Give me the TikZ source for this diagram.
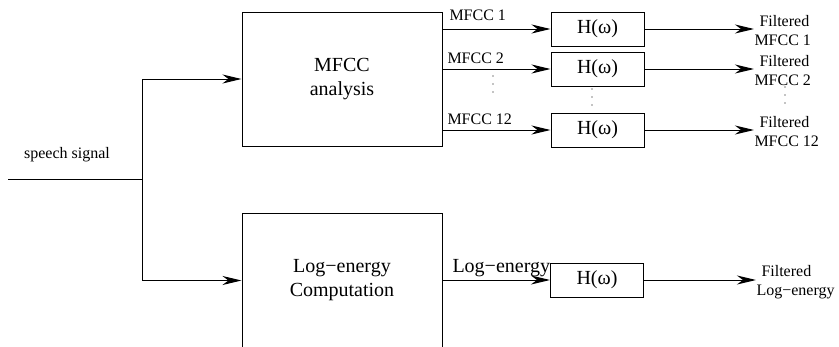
\documentclass[tikz,border=0pt]{standalone}
\usepackage{fontspec}
\setmainfont{Liberation Serif}
\newfontfamily\tms{Liberation Serif}
\usetikzlibrary{arrows.meta}
\begin{document}
\begin{tikzpicture}[x=1pt,y=-1pt,
  line width=1pt,
  bigbox/.style={draw, minimum width=200pt, minimum height=134pt, align=center, font=\tms\fontsize{20}{24}\selectfont, inner sep=0pt},
  hbox/.style={draw, minimum width=93pt, minimum height=34pt, inner sep=0pt, font=\tms\fontsize{20}{24}\selectfont},
  arr/.style={-{Stealth[length=19pt,width=9pt,inset=6pt]}},
  lab/.style={font=\tms\fontsize{16}{18}\selectfont, inner sep=0pt, anchor=base west},
  outl/.style={font=\tms\fontsize{16}{19}\selectfont, align=left, anchor=west, inner sep=0pt},
  loglab/.style={font=\tms\fontsize{20}{24}\selectfont, inner sep=0pt, anchor=base west}
]
\clip (0,0) rectangle (839,346);
% main blocks
\node[bigbox] (mfcc) at (342,79) {MFCC\\analysis};
\node[bigbox] (loge) at (342,280.5) {Log−energy\\Computation};
\node[hbox] (h1) at (597.5,29) {H(ω)};
\node[hbox] (h2) at (597.5,69) {H(ω)};
\node[hbox] (h3) at (597.5,130) {H(ω)};
\node[hbox] (h4) at (597,280) {H(ω)};
% input
\node[font=\tms\fontsize{16}{18}\selectfont, inner sep=0pt] (sp) at (67,155) {speech signal};
\coordinate (in) at (8,179);
\coordinate (split) at (142,179);
\draw (in) -- (split);
\draw[arr] (split) |- (mfcc.west);
\draw[arr] (split) |- (loge.west);
% channel labels
\node[lab] (l1) at (449,20) {MFCC 1};
\node[lab] (l2) at (447,63) {MFCC 2};
\node[lab] (l3) at (447,124) {MFCC 12};
\node[loglab] (l4) at (452,272) {Log−energy};
% arrows into filters
\draw[arr] (mfcc.east |- h1.west) -- (h1.west);
\draw[arr] (mfcc.east |- h2.west) -- (h2.west);
\draw[arr] (mfcc.east |- h3.west) -- (h3.west);
\draw[arr] (loge.east |- h4.west) -- (h4.west);
% outputs
\node[outl] (f1) at (754,31) {\hspace*{5pt}Filtered\\MFCC 1};
\node[outl] (f2) at (754,71) {\hspace*{5pt}Filtered\\MFCC 2};
\node[outl] (f3) at (754,132) {\hspace*{5pt}Filtered\\MFCC 12};
\node[outl] (f4) at (756,282) {\hspace*{5pt}Filtered\\Log−energy};
\draw[arr] (h1.east) -- (h1.east -| f1.west);
\draw[arr] (h2.east) -- (h2.east -| f2.west);
\draw[arr] (h3.east) -- (h3.east -| f3.west);
\draw[arr] (h4.east) -- (h4.east -| f4.west);
% ellipsis dots
\foreach \yy in {76,84,92} \fill (493,\yy) circle (0.6);
\foreach \yy in {89,97,105} \fill (592,\yy) circle (0.6);
\foreach \yy in {87,95,103} \fill (785,\yy) circle (0.6);
\end{tikzpicture}
\end{document}
